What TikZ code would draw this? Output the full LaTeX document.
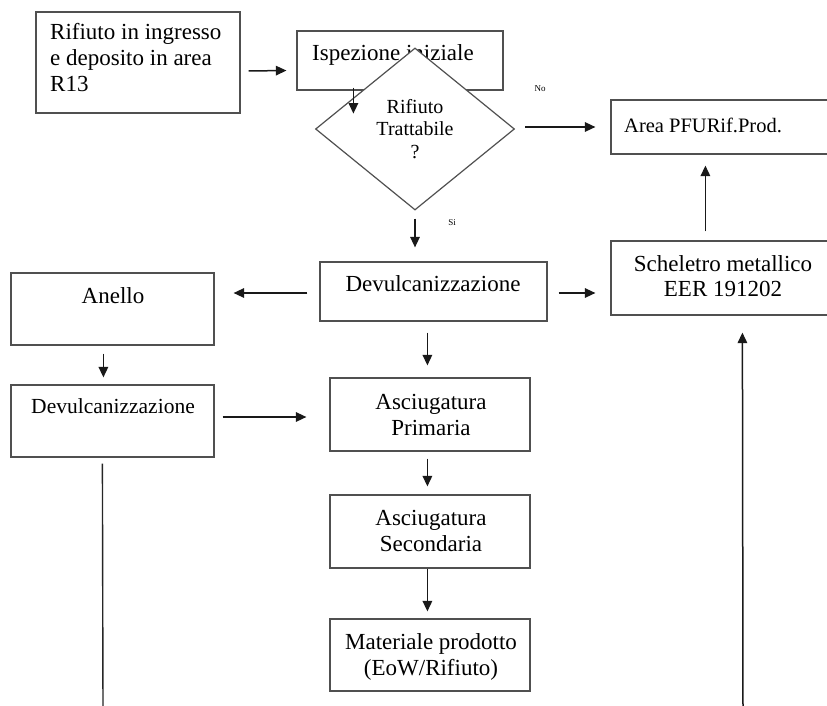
\documentclass[tikz,border=0pt]{standalone}
\usepackage{fontspec}
\setmainfont{Liberation Serif}
\usetikzlibrary{arrows.meta,shapes.geometric,fit,calc}
\definecolor{boxgray}{HTML}{505050}
\tikzset{
  box/.style={draw=boxgray, line width=1.2pt, inner sep=0pt, fill=white},
  txt/.style={inner sep=0pt, font=\fontsize{23}{26}\selectfont},
  arr/.style={draw=black!90, line width=1.5pt, -{Triangle[length=10.5pt,width=9.5pt]}},
  plain/.style={draw=black!85, line width=1.4pt},
  tiny/.style={inner sep=0pt, font=\fontsize{9}{10}\selectfont}
}
\begin{document}
\begin{tikzpicture}[x=1pt,y=-1pt]
\clip (0,0) rectangle (827,706);
\fill[white] (0,0) rectangle (827,706);
% boxes
\node[box, fit={(36,12) (240,113)}] (b1) {};
\node[txt, anchor=base west, align=left] (t1) at (50,92) {Rifiuto in ingresso\\e deposito in area\\R13};
\node[box, fit={(297,31) (503,90)}] (b2) {};
\node[txt, anchor=base west] (t2) at (312,61) {Ispezione iniziale};
\node[box, diamond, minimum width=199pt, minimum height=162pt] (d) at (415,129) {};
\node[txt, anchor=base, align=center, font=\fontsize{20}{22.5}\selectfont] (td) at (415,158) {Rifiuto\\Trattabile\\?};
\node[tiny] (no) at (540,89) {No};
\node[box, fit={(611,100) (832,154)}] (area) {};
\node[txt, anchor=base west, font=\fontsize{20.5}{24}\selectfont] (ta) at (624,132) {Area PFURif.Prod.};
\node[box, fit={(611,241) (832,315)}] (sch) {};
\node[txt, anchor=base, align=center, font=\fontsize{23}{25}\selectfont] (ts) at (723,296) {Scheletro metallico\\EER 191202};
\node[tiny] (si) at (452,223) {Si};
\node[box, fit={(320,262) (547,321)}] (dm) {};
\node[txt, anchor=base] (tdm) at (433,291) {Devulcanizzazione};
\node[box, fit={(11,273) (214,345)}] (an) {};
\node[txt, anchor=base] (tan) at (113,303) {Anello};
\node[box, fit={(11,385) (214,457)}] (dl) {};
\node[txt, anchor=base, font=\fontsize{21.5}{25}\selectfont] (tdl) at (113,413) {Devulcanizzazione};
\node[box, fit={(330,378) (530,451)}] (ap) {};
\node[txt, anchor=base, align=center] (tap) at (431,435) {Asciugatura\\Primaria};
\node[box, fit={(330,495) (530,568)}] (as) {};
\node[txt, anchor=base, align=center] (tas) at (431,551) {Asciugatura\\Secondaria};
\node[box, fit={(330,619) (530,691)}] (mp) {};
\node[txt, anchor=base, align=center] (tmp) at (431,675) {Materiale prodotto\\(EoW/Rifiuto)};
% connectors
\draw[arr] ($(b1.east)+(8,8.5)$) -- ($(b2.west)+(-10,10)$);
\draw[arr] ($(b2.south west)+(57,-3)$) -- ($(b2.south west)+(57,23)$);
\draw[arr] ($(d.east)+(10,-2)$) -- ($(area.west)+(-15,0)$);
\draw[arr] ($(d.south)+(0,8)$) -- ($(d.south |- dm.north)+(0,-14)$);
\draw[arr] ($(dm.west)+(-12,1.5)$) -- ($(dm.west -| an.east)+(19,1.5)$);
\draw[arr] ($(dm.east)+(11,1.5)$) -- ($(dm.east -| sch.west)+(-15,1.5)$);
\draw[arr] ($(sch.north west)+(95,-9)$) -- ($(area.south west)+(95,11)$);
\draw[arr] ($(an.south west)+(93,8)$) -- ($(dl.north west)+(93,-7)$);
\draw[arr] ($(dl.east)+(8,-4)$) -- ($(dl.east -| ap.west)+(-23,-4)$);
\draw[arr] ($(dm.south west)+(108,11)$) -- ($(ap.north west)+(98,-12)$);
\draw[arr] ($(ap.south west)+(98,7)$) -- ($(as.north west)+(98,-8)$);
\draw[arr] ($(as.south west)+(98,0)$) -- ($(mp.north west)+(98,-7)$);
\coordinate (lend) at (103,710);
\coordinate (rend) at (743,710);
\draw[plain] ($(dl.south west)+(92,6)$) -- (lend);
\draw[arr] (rend) -- ($(sch.south west)+(132,17)$);
\end{tikzpicture}
\end{document}
